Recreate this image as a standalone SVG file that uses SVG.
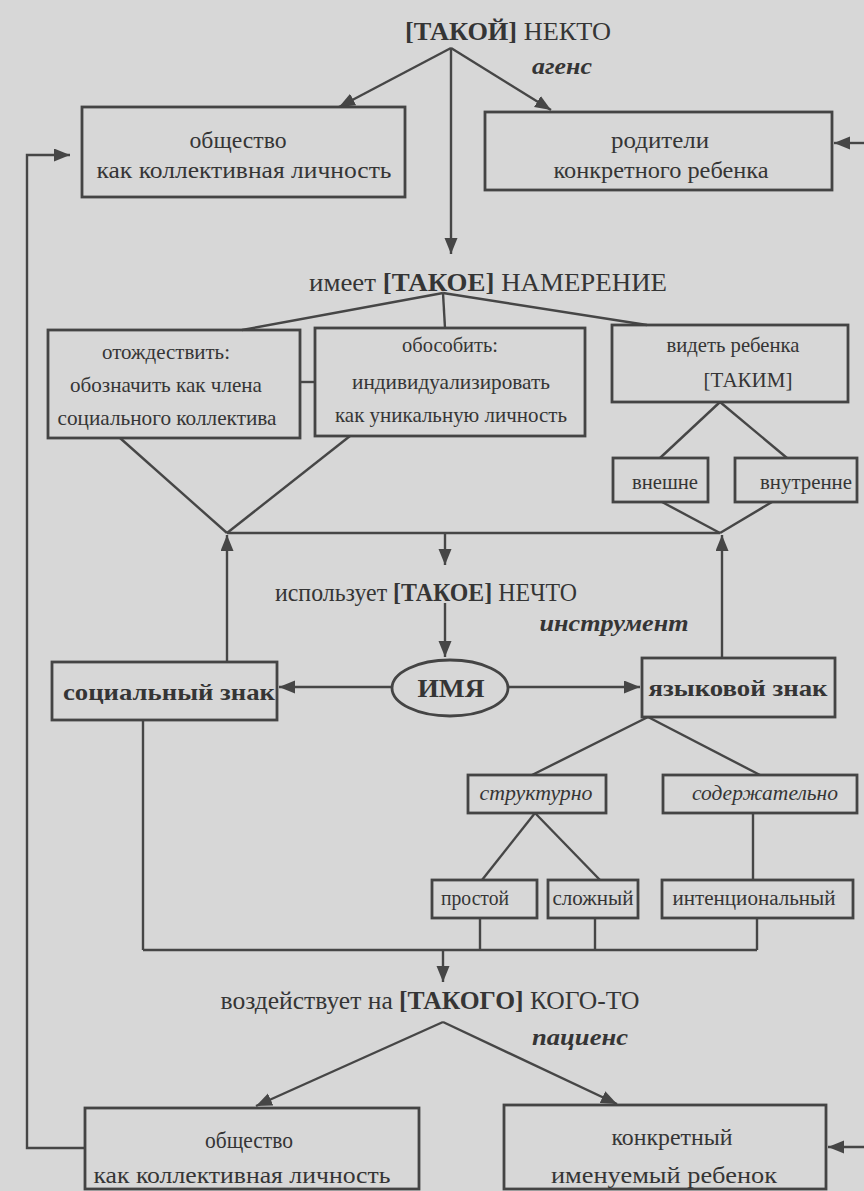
<svg xmlns="http://www.w3.org/2000/svg" width="864" height="1191" viewBox="0 0 864 1191">
<style>
text{font-family:'Liberation Serif','Times New Roman',serif;fill:#353535;text-anchor:middle}
.h{font-size:26px}
.t{font-size:24px}
.s{font-size:21px}
.r{font-size:20px}
.k{font-size:23px;font-weight:bold;font-style:italic}
.b{font-weight:bold}
.i{font-style:italic}
.box{fill:none;stroke:#444;stroke-width:2.8}
.ln{fill:none;stroke:#464646;stroke-width:2.4}
.ar{fill:none;stroke:#464646;stroke-width:2.4;marker-end:url(#ah)}
</style>
<defs>
<marker id="ah" markerUnits="userSpaceOnUse" markerWidth="17" markerHeight="14" refX="16" refY="6.5" orient="auto">
<path d="M0,0 L16,6.5 L0,13 z" fill="#464646"/>
</marker>
</defs>
<rect width="864" height="1191" fill="#d7d7d7"/>

<g id="connectors">
<line class="ar" x1="451" y1="48" x2="339" y2="107"/>
<line class="ar" x1="451" y1="48" x2="551" y2="110"/>
<line class="ar" x1="451" y1="48" x2="451" y2="254"/>
<polyline class="ar" points="84,1148 27,1148 27,155 70,155"/>
<line class="ar" x1="864" y1="143" x2="834" y2="143"/>
<line class="ar" x1="864" y1="1147" x2="828" y2="1147"/>
<line class="ln" x1="443" y1="293" x2="242" y2="330"/>
<line class="ln" x1="443" y1="293" x2="445" y2="328"/>
<line class="ln" x1="443" y1="293" x2="647" y2="325"/>
<line class="ln" x1="300" y1="382" x2="315" y2="382"/>
<line class="ln" x1="720" y1="402" x2="660" y2="458"/>
<line class="ln" x1="720" y1="402" x2="787" y2="458"/>
<line class="ln" x1="120" y1="438" x2="227" y2="533"/>
<line class="ln" x1="350" y1="436" x2="227" y2="533"/>
<line class="ln" x1="662" y1="502" x2="720" y2="533"/>
<line class="ln" x1="772" y1="502" x2="720" y2="533"/>
<line class="ln" x1="227" y1="533" x2="720" y2="533"/>
<line class="ar" x1="227" y1="662" x2="227" y2="535"/>
<line class="ar" x1="722" y1="658" x2="722" y2="535"/>
<line class="ar" x1="445" y1="533" x2="445" y2="565"/>
<line class="ar" x1="445" y1="603" x2="445" y2="657"/>
<line class="ar" x1="392" y1="687" x2="279" y2="687"/>
<line class="ar" x1="508" y1="687" x2="640" y2="687"/>
<line class="ln" x1="648" y1="717" x2="532" y2="775"/>
<line class="ln" x1="648" y1="717" x2="760" y2="775"/>
<line class="ln" x1="535" y1="813" x2="482" y2="880"/>
<line class="ln" x1="535" y1="813" x2="600" y2="880"/>
<line class="ln" x1="753" y1="813" x2="753" y2="880"/>
<line class="ln" x1="143" y1="720" x2="143" y2="950"/>
<line class="ln" x1="480" y1="918" x2="480" y2="950"/>
<line class="ln" x1="595" y1="918" x2="595" y2="950"/>
<line class="ln" x1="757" y1="918" x2="757" y2="950"/>
<line class="ln" x1="143" y1="950" x2="757" y2="950"/>
<line class="ar" x1="443" y1="950" x2="443" y2="982"/>
<line class="ar" x1="443" y1="1022" x2="256" y2="1106"/>
<line class="ar" x1="443" y1="1022" x2="617" y2="1104"/>
</g>

<g id="agent">
<text class="h" x="508" y="40" textLength="206" lengthAdjust="spacingAndGlyphs"><tspan class="b">[ТАКОЙ]</tspan> НЕКТО</text>
<text class="k" x="562" y="74" textLength="60" lengthAdjust="spacingAndGlyphs">агенс</text>
</g>
<g id="society-top">
<rect class="box" x="82" y="107" width="323" height="90"/>
<text class="t" x="238" y="148" textLength="97" lengthAdjust="spacingAndGlyphs">общество</text>
<text class="t" x="244" y="178" textLength="295" lengthAdjust="spacingAndGlyphs">как коллективная личность</text>
</g>
<g id="parents">
<rect class="box" x="485" y="112" width="347" height="78"/>
<text class="t" x="660" y="148" textLength="98" lengthAdjust="spacingAndGlyphs">родители</text>
<text class="t" x="661" y="178" textLength="215" lengthAdjust="spacingAndGlyphs">конкретного ребенка</text>
</g>
<g id="intention">
<text class="h" x="488" y="291" textLength="358" lengthAdjust="spacingAndGlyphs">имеет <tspan class="b">[ТАКОЕ]</tspan> НАМЕРЕНИЕ</text>
</g>
<g id="identify">
<rect class="box" x="48" y="330" width="252" height="108"/>
<text class="s" x="166" y="359" textLength="128" lengthAdjust="spacingAndGlyphs">отождествить:</text>
<text class="s" x="166" y="392" textLength="192" lengthAdjust="spacingAndGlyphs">обозначить как члена</text>
<text class="s" x="167" y="425" textLength="219" lengthAdjust="spacingAndGlyphs">социального коллектива</text>
</g>
<g id="isolate">
<rect class="box" x="315" y="328" width="270" height="108"/>
<text class="s" x="450" y="352" textLength="96" lengthAdjust="spacingAndGlyphs">обособить:</text>
<text class="s" x="451" y="389" textLength="198" lengthAdjust="spacingAndGlyphs">индивидуализировать</text>
<text class="s" x="451" y="422" textLength="232" lengthAdjust="spacingAndGlyphs">как уникальную личность</text>
</g>
<g id="see">
<rect class="box" x="612" y="325" width="236" height="77"/>
<text class="s" x="733" y="352" textLength="133" lengthAdjust="spacingAndGlyphs">видеть ребенка</text>
<text class="s" x="748" y="387">[ТАКИМ]</text>
</g>
<g id="outer">
<rect class="box" x="613" y="458" width="95" height="44"/>
<text class="r" x="665" y="489" textLength="66" lengthAdjust="spacingAndGlyphs">внешне</text>
</g>
<g id="inner">
<rect class="box" x="735" y="458" width="122" height="44"/>
<text class="r" x="806" y="489" textLength="92" lengthAdjust="spacingAndGlyphs">внутренне</text>
</g>
<g id="uses">
<text class="h" x="426" y="601" textLength="302" lengthAdjust="spacingAndGlyphs">использует <tspan class="b">[ТАКОЕ]</tspan> НЕЧТО</text>
<text class="k" x="614" y="631" textLength="149" lengthAdjust="spacingAndGlyphs">инструмент</text>
</g>
<g id="social-sign">
<rect class="box" x="52" y="662" width="225" height="58"/>
<text class="b" x="169" y="700" font-size="24" textLength="212" lengthAdjust="spacingAndGlyphs">социальный знак</text>
</g>
<g id="name">
<ellipse class="box" cx="450" cy="688" rx="58" ry="28"/>
<text class="b" x="451" y="697" font-size="26" textLength="67" lengthAdjust="spacingAndGlyphs">ИМЯ</text>
</g>
<g id="lang-sign">
<rect class="box" x="642" y="658" width="193" height="59"/>
<text class="b" x="738" y="696" font-size="24" textLength="179" lengthAdjust="spacingAndGlyphs">языковой знак</text>
</g>
<g id="structural">
<rect class="box" x="468" y="775" width="138" height="38"/>
<text class="r i" x="536" y="800" textLength="113" lengthAdjust="spacingAndGlyphs">структурно</text>
</g>
<g id="content">
<rect class="box" x="663" y="775" width="194" height="38"/>
<text class="r i" x="765" y="800" textLength="146" lengthAdjust="spacingAndGlyphs">содержательно</text>
</g>
<g id="simple">
<rect class="box" x="432" y="880" width="105" height="38"/>
<text class="r" x="475" y="905" textLength="68" lengthAdjust="spacingAndGlyphs">простой</text>
</g>
<g id="complex">
<rect class="box" x="548" y="880" width="90" height="38"/>
<text class="r" x="593" y="905" textLength="81" lengthAdjust="spacingAndGlyphs">сложный</text>
</g>
<g id="intentional">
<rect class="box" x="662" y="880" width="191" height="38"/>
<text class="r" x="754" y="905" textLength="163" lengthAdjust="spacingAndGlyphs">интенциональный</text>
</g>
<g id="affects">
<text class="h" x="430" y="1009" textLength="419" lengthAdjust="spacingAndGlyphs">воздействует на <tspan class="b">[ТАКОГО]</tspan> КОГО-ТО</text>
<text class="k" x="580" y="1045" textLength="96" lengthAdjust="spacingAndGlyphs">пациенс</text>
</g>
<g id="society-bottom">
<rect class="box" x="85" y="1108" width="334" height="81"/>
<text class="t" x="249" y="1148" textLength="88" lengthAdjust="spacingAndGlyphs">общество</text>
<text class="t" x="242" y="1183" textLength="297" lengthAdjust="spacingAndGlyphs">как коллективная личность</text>
</g>
<g id="child">
<rect class="box" x="504" y="1105" width="322" height="84"/>
<text class="t" x="672" y="1145" textLength="121" lengthAdjust="spacingAndGlyphs">конкретный</text>
<text class="t" x="664" y="1183" textLength="226" lengthAdjust="spacingAndGlyphs">именуемый ребенок</text>
</g>
</svg>
